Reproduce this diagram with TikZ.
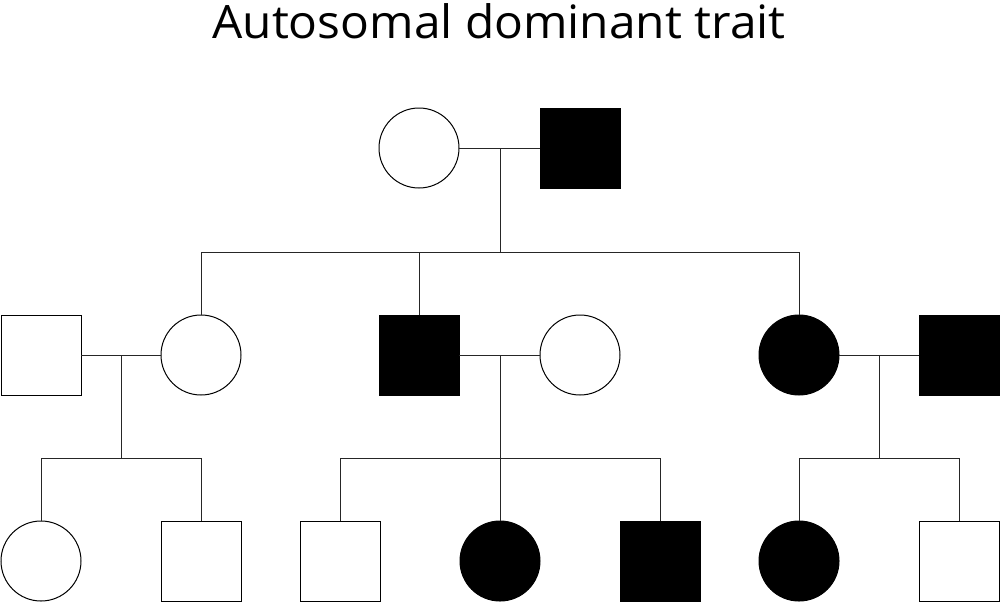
\documentclass[tikz,border=0pt]{standalone}
\usepackage{graphicx}
\usepackage{fontspec}
\setmainfont{Open Sans}
\begin{document}
\begin{tikzpicture}[x=1pt,y=-1pt,
  ind/.style={draw=black,line width=1pt,minimum size=80pt,inner sep=0pt,outer sep=0pt},
  fem/.style={ind,circle},
  mal/.style={ind,rectangle},
  aff/.style={fill=black},
  link/.style={draw=black!85,line width=1pt}]
\useasboundingbox (0,0) rectangle (1000,603);
\node[font=\fontsize{46}{50}\selectfont,anchor=base,inner sep=0pt] (title) at (499,38) {\scalebox{1.04}[1]{Autosomal dominant trait}};
% generation 1
\node[fem] (g1f) at (419,148) {};
\node[mal,aff] (g1m) at (580,148) {};
\coordinate (m1) at (500,148);
\coordinate (s1) at (500,252);
\coordinate (s1l) at (201,252);
\coordinate (s1r) at (799,252);
% generation 2
\node[mal] (a1) at (41,355) {};
\node[fem] (a2) at (201,355) {};
\node[mal,aff] (b1) at (419,355) {};
\node[fem] (b2) at (580,355) {};
\node[fem,aff] (c1) at (799,355) {};
\node[mal,aff] (c2) at (959,355) {};
% generation 3
\node[fem] (a3) at (41,561) {};
\node[mal] (a4) at (201,561) {};
\node[mal] (b3) at (340,561) {};
\node[fem,aff] (b4) at (500,561) {};
\node[mal,aff] (b5) at (660,561) {};
\node[fem,aff] (c3) at (799,561) {};
\node[mal] (c4) at (959,561) {};
% couple 1
\draw[link] (g1f.east) -- (g1m.west);
\draw[link] (m1) -- (s1);
\draw[link] (s1l) -- (s1r);
\draw[link] (s1l) -- (a2.north);
\draw[link] (s1l -| b1.north) -- (b1.north);
\draw[link] (s1r) -- (c1.north);
% couple a
\coordinate (ma) at (121,355);
\coordinate (sa) at (121,458);
\draw[link] (a1.east) -- (a2.west);
\draw[link] (ma) -- (sa);
\draw[link] (sa -| a3.north) -- (sa -| a4.north);
\draw[link] (sa -| a3.north) -- (a3.north);
\draw[link] (sa -| a4.north) -- (a4.north);
% couple b
\coordinate (mb) at (500,355);
\coordinate (sb) at (500,458);
\draw[link] (b1.east) -- (b2.west);
\draw[link] (mb) -- (sb);
\draw[link] (sb -| b3.north) -- (sb -| b5.north);
\draw[link] (sb -| b3.north) -- (b3.north);
\draw[link] (sb) -- (b4.north);
\draw[link] (sb -| b5.north) -- (b5.north);
% couple c
\coordinate (mc) at (879,355);
\coordinate (sc) at (879,458);
\draw[link] (c1.east) -- (c2.west);
\draw[link] (mc) -- (sc);
\draw[link] (sc -| c3.north) -- (sc -| c4.north);
\draw[link] (sc -| c3.north) -- (c3.north);
\draw[link] (sc -| c4.north) -- (c4.north);
\end{tikzpicture}
\end{document}
